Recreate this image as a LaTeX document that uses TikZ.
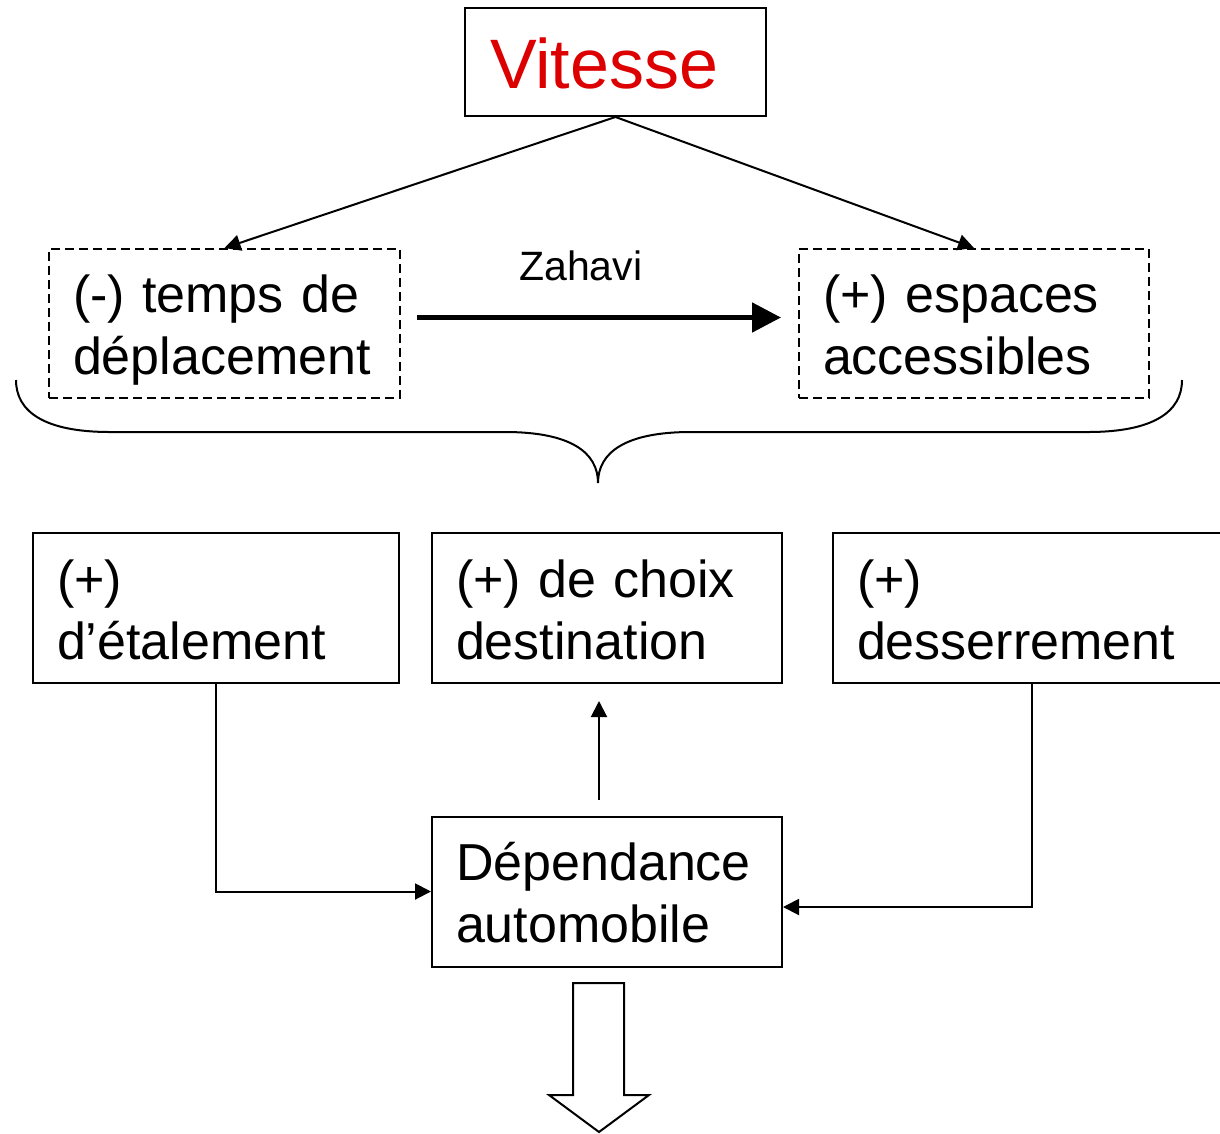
\documentclass[tikz,border=0pt]{standalone}
\usepackage{fontspec}
\setmainfont{Liberation Sans}
\usepackage{xcolor}
\usepackage{tikz}
\usetikzlibrary{arrows.meta,positioning,calc}
\definecolor{vitred}{RGB}{221,0,0}
\hyphenpenalty=10000

\begin{document}
\begin{tikzpicture}[x=1pt, y=-1pt, line width=2pt,
    box/.style={rectangle, draw, align=left, inner xsep=24pt, inner ysep=0pt, minimum height=150pt,
        text height=38pt, text depth=60pt, font=\fontsize{52}{62}\selectfont},
    dashedbox/.style={box, dash pattern=on 9pt off 5pt},
    arrow/.style={-{Triangle[length=16pt,width=16pt]}}]
    \useasboundingbox (0,0) rectangle (1220,1133);

    \node[box, text width=251pt, inner xsep=25pt, minimum height=108pt, text height=52pt, text depth=0pt,
        font=\fontsize{70}{84}\selectfont, text=vitred] (vitesse) at (615.5,62) {Vitesse};
    \node[dashedbox, text width=303pt, minimum height=149pt] (temps) at (224.5,323.5) {(-) temps de\\déplacement};
    \node[dashedbox, text width=302pt, minimum height=149pt] (espaces) at (974,323.5) {(+) espaces\\accessibles};
    \node[box, text width=318pt] (etalement) at (216,608) {(+)\\d’étalement};
    \node[box, text width=302pt] (choix) at (607,608) {(+) de choix\\destination};
    \node[box, text width=372pt, anchor=west] (desserrement) at (832,608) {(+)\\desserrement};
    \node[box, text width=302pt] (dependance) at (607,891.5) {Dépendance\\automobile};

    \draw[arrow] (vitesse.south) -- (temps.north);
    \draw[arrow] (vitesse.south) -- (espaces.north);
    \draw[-{Triangle[length=29pt,width=29pt]}, line width=5pt] ([xshift=16pt,yshift=6pt]temps.east)
        -- node[pos=0.45, above=34pt, inner sep=0pt, font=\fontsize{41}{49}\selectfont] (zahavi) {Zahavi}
        ([xshift=-17pt,yshift=6pt]espaces.west);

    % accolade
    \draw (16,380) .. controls (16,412) and (45,432) .. (110,432) -- (505,432)
        .. controls (570,432) and (598,452) .. (598,483)
        .. controls (598,452) and (626,432) .. (691,432) -- (1088,432)
        .. controls (1153,432) and (1182,412) .. (1182,380);

    \draw[arrow] ([xshift=-8pt,yshift=16pt]dependance.north) -- ([xshift=-8pt,yshift=-17pt]choix.south);
    \draw[arrow] (etalement.south) |- (dependance.west);
    \coordinate (dbend) at (1032,907);
    \draw[arrow] (dbend |- desserrement.south) -- (dbend) -- (dbend -| dependance.east);

    % grosse fleche
    \draw (573,983) -- (624,983) -- (624,1095) -- (649,1095) -- (599,1132) -- (549,1095) -- (573,1095) -- cycle;
\end{tikzpicture}
\end{document}
